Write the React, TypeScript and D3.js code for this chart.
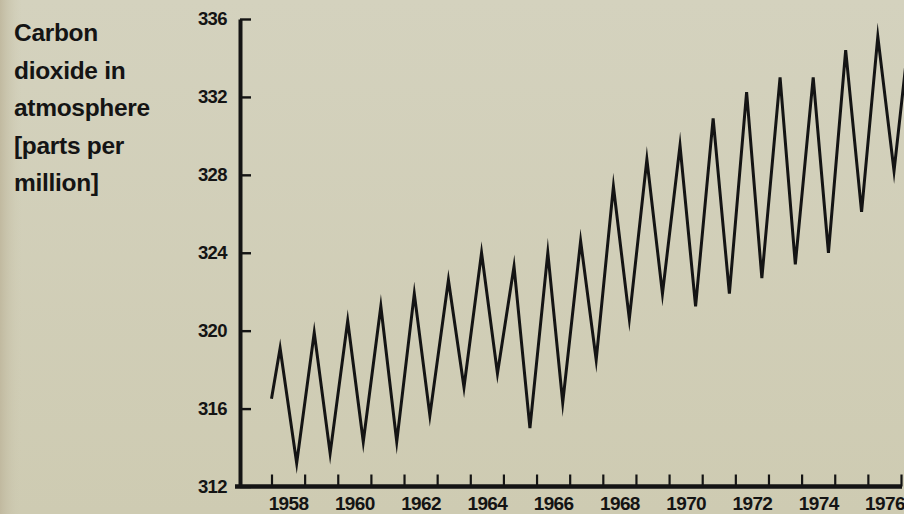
import React, { useEffect, useRef } from 'react';
import * as d3 from 'd3';

// readings taken off the chart: decimal year of each peak / trough and the ppm there
const sampleYears = [
    1958.0, 1958.26, 1958.76, 1959.29, 1959.77, 1960.3, 1960.77, 1961.3, 1961.78,
    1962.31, 1962.78, 1963.34, 1963.81, 1964.34, 1964.82, 1965.32, 1965.8, 1966.34,
    1966.79, 1967.33, 1967.8, 1968.32, 1968.8, 1969.33, 1969.8, 1970.33, 1970.8,
    1971.33, 1971.82, 1972.34, 1972.8, 1973.35, 1973.81, 1974.35, 1974.81, 1975.33,
    1975.81, 1976.3, 1976.79, 1977.33
];
const co2Ppm = [
    316.5, 319.1, 313.2, 319.9, 313.7, 320.5, 314.3, 321.25, 314.3,
    321.9, 315.65, 322.6, 317.1, 324.0, 317.8, 323.3, 315.0, 324.0,
    316.3, 324.6, 318.5, 327.4, 320.6, 328.8, 321.9, 329.5, 321.25,
    330.9, 321.9, 332.25, 322.7, 333.0, 323.4, 333.0, 324.0, 334.4,
    326.1, 335.1, 328.2, 336.5
];

const ppmTicks = [312, 316, 320, 324, 328, 332, 336];
const yearTicks = [
    1958, 1959, 1960, 1961, 1962, 1963, 1964, 1965, 1966, 1967,
    1968, 1969, 1970, 1971, 1972, 1973, 1974, 1975, 1976, 1977
];
const yearLabels = [1958, 1960, 1962, 1964, 1966, 1968, 1970, 1972, 1974, 1976];
const titleLines = ['Carbon', 'dioxide in', 'atmosphere', '[parts per', 'million]'];

const FONT = '"Liberation Sans", Arial, Helvetica, sans-serif';
const INK = '#141414';

export default function App() {
    const ref = useRef<SVGSVGElement>(null);

    useEffect(() => {
        const svg = d3.select(ref.current);
        svg.selectAll('*').remove();

        const width = 904,
            height = 514;

        // paper background
        const defs = svg.append('defs');
        const bg = defs.append('linearGradient')
            .attr('id', 'paper')
            .attr('x1', 0).attr('y1', 0).attr('x2', 0).attr('y2', 1);
        bg.append('stop').attr('offset', '0%').attr('stop-color', '#d4d2be');
        bg.append('stop').attr('offset', '100%').attr('stop-color', '#cecbb2');
        const edge = defs.append('linearGradient')
            .attr('id', 'edge')
            .attr('x1', 0).attr('y1', 0).attr('x2', 1).attr('y2', 0);
        edge.append('stop').attr('offset', '0%').attr('stop-color', '#bfb79d').attr('stop-opacity', 0.9);
        edge.append('stop').attr('offset', '100%').attr('stop-color', '#cfccb4').attr('stop-opacity', 0);

        svg.append('rect')
            .attr('width', width)
            .attr('height', height)
            .attr('fill', 'url(#paper)');
        svg.append('rect')
            .attr('width', 22)
            .attr('height', height)
            .attr('fill', 'url(#edge)');

        // title on the left
        svg.append('text')
            .attr('x', 14)
            .attr('font-family', FONT)
            .attr('font-weight', 'bold')
            .attr('font-size', 24.5)
            .attr('letter-spacing', -0.3)
            .attr('fill', INK)
            .selectAll('tspan')
            .data(titleLines)
            .enter()
            .append('tspan')
            .attr('x', 14)
            .attr('y', (d, i) => 41 + i * 37.6)
            .text(d => d);

        // scales
        const xScale = d3.scaleLinear()
            .domain([1958, 1977])
            .range([271.5, 901]);
        const yScale = d3.scaleLinear()
            .domain([312, 336])
            .range([486.5, 19]);

        // y axis, ticks pointing into the plot
        const yAxis = svg.append('g')
            .attr('transform', 'translate(240, 0)')
            .call(d3.axisLeft(yScale)
                .tickValues(ppmTicks)
                .tickSizeInner(-11)
                .tickSizeOuter(0)
                .tickPadding(13)
                .tickFormat(d3.format('d')));
        yAxis.select('.domain')
            .attr('stroke', INK)
            .attr('stroke-width', 4);
        yAxis.selectAll('.tick line')
            .attr('stroke', INK)
            .attr('stroke-width', 2.4);
        yAxis.selectAll('.tick text')
            .attr('fill', INK)
            .attr('font-family', FONT)
            .attr('font-weight', 'bold')
            .attr('font-size', 18.5)
            .attr('letter-spacing', -0.6);

        // x axis: a tick at each year boundary
        const xAxis = svg.append('g')
            .attr('transform', 'translate(0, ' + yScale(312) + ')')
            .call(d3.axisBottom(xScale)
                .tickValues(yearTicks)
                .tickSizeInner(-12)
                .tickSizeOuter(0)
                .tickFormat(() => ''));
        xAxis.select('.domain').remove();
        xAxis.selectAll('.tick line')
            .attr('stroke', INK)
            .attr('stroke-width', 2.2);
        xAxis.append('line')
            .attr('x1', 235)
            .attr('x2', xScale(1977) + 1)
            .attr('stroke', INK)
            .attr('stroke-width', 4.5);

        // year labels sit in the middle of their year
        const xLabels = svg.append('g')
            .attr('transform', 'translate(0, ' + yScale(312) + ')')
            .call(d3.axisBottom(xScale)
                .tickValues(yearLabels.map(y => y + 0.5))
                .tickSize(0)
                .tickPadding(10)
                .tickFormat(d => String(Math.floor(+d))));
        xLabels.select('.domain').remove();
        xLabels.selectAll('.tick text')
            .attr('fill', INK)
            .attr('font-family', FONT)
            .attr('font-weight', 'bold')
            .attr('font-size', 19)
            .attr('letter-spacing', -0.6);

        // the zigzag
        const points = sampleYears.map((t, i) => [t, co2Ppm[i]] as [number, number]);
        const line = d3.line<[number, number]>()
            .x(d => xScale(d[0]))
            .y(d => yScale(d[1]));
        svg.append('path')
            .datum(points)
            .attr('d', line)
            .attr('fill', 'none')
            .attr('stroke', INK)
            .attr('stroke-width', 3)
            .attr('stroke-linejoin', 'miter')
            .attr('stroke-miterlimit', 10);
    }, []);

    return (
        <>
            <style>{'body{margin:0}'}</style>
            <svg ref={ref} width={904} height={514} style={{ display: 'block' }} />
        </>
    );
}
